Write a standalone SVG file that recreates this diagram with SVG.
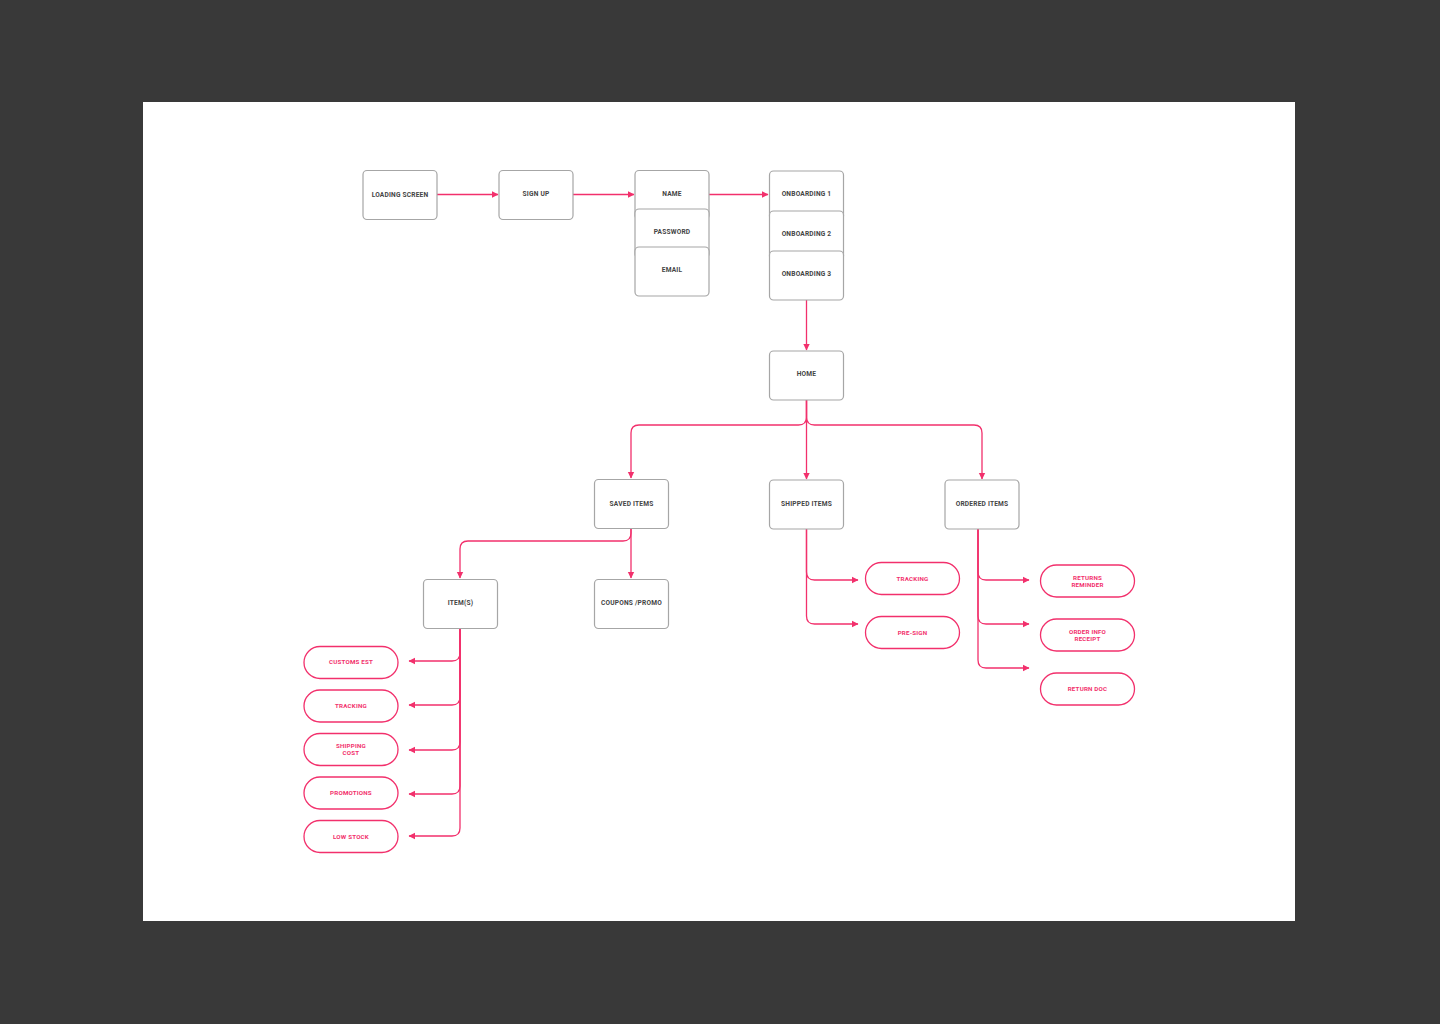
<svg xmlns="http://www.w3.org/2000/svg" width="1440" height="1024" viewBox="0 0 1440 1024">
<defs>
<style>
.box rect{fill:#fff;stroke:#a6a6a6;stroke-width:1.2}
.box text{font-family:Roboto,"Liberation Sans",sans-serif;font-size:6.6px;font-weight:700;fill:#444;text-anchor:middle;dominant-baseline:central;letter-spacing:0.2px}
.pill rect{fill:#fff;stroke:#f2306c;stroke-width:1.3}
.pill text{font-family:Roboto,"Liberation Sans",sans-serif;font-size:6.2px;font-weight:700;fill:#f2306c;text-anchor:middle;dominant-baseline:central;letter-spacing:0.2px}
.c path{fill:none;stroke:#f2306c;stroke-width:1.3;marker-end:url(#ah)}
</style>
<marker id="ah" markerUnits="userSpaceOnUse" markerWidth="8" markerHeight="8" viewBox="0 0 8 8" refX="6" refY="4" orient="auto">
<path d="M0,0.8 L6.5,4 L0,7.2 Z" fill="#f2306c"/>
</marker>
</defs>
<rect x="0" y="0" width="1440" height="1024" fill="#393939"/>
<rect x="143" y="102" width="1152" height="819" fill="#fff"/>

<g class="c" id="connectors">
<path d="M437,194.5 H498"/>
<path d="M573,194.5 H634"/>
<path d="M709,194.5 H768"/>
<path d="M806.5,300 V350"/>
<path d="M806.5,400 V417 Q806.5,425 798.5,425 H639 Q631,425 631,433 V478"/>
<path d="M806.5,400 V479"/>
<path d="M806.5,400 V417 Q806.5,425 814.5,425 H974 Q982,425 982,433 V479"/>
<path d="M631,528 V533 Q631,541 623,541 H468 Q460,541 460,549 V578"/>
<path d="M631,528 V578"/>
<path d="M460,628 V653 Q460,661 452,661 H409"/>
<path d="M460,628 V697 Q460,705 452,705 H409"/>
<path d="M460,628 V742 Q460,750 452,750 H409"/>
<path d="M460,628 V786 Q460,794 452,794 H409"/>
<path d="M460,628 V828 Q460,836 452,836 H409"/>
<path d="M806.5,529 V572 Q806.5,580 814.5,580 H858"/>
<path d="M806.5,529 V616 Q806.5,624 814.5,624 H858"/>
<path d="M978,529 V572 Q978,580 986,580 H1029"/>
<path d="M978,529 V616 Q978,624 986,624 H1029"/>
<path d="M978,529 V660 Q978,668 986,668 H1029"/>
</g>

<g class="box" id="loading"><rect x="363" y="170.5" width="74" height="49" rx="4"/><text x="400" y="194.5">LOADING SCREEN</text></g>
<g class="box" id="signup"><rect x="499" y="170.5" width="74" height="49" rx="4"/><text x="536" y="193.5">SIGN UP</text></g>
<g class="box" id="name"><rect x="635" y="170.5" width="74" height="49" rx="4"/><text x="672" y="193.5">NAME</text></g>
<g class="box" id="password"><rect x="635" y="209" width="74" height="49" rx="4"/><text x="672" y="232">PASSWORD</text></g>
<g class="box" id="email"><rect x="635" y="247" width="74" height="49" rx="4"/><text x="672" y="270">EMAIL</text></g>
<g class="box" id="onb1"><rect x="769.5" y="171" width="74" height="49" rx="4"/><text x="806.5" y="194">ONBOARDING 1</text></g>
<g class="box" id="onb2"><rect x="769.5" y="211" width="74" height="49" rx="4"/><text x="806.5" y="234">ONBOARDING 2</text></g>
<g class="box" id="onb3"><rect x="769.5" y="251" width="74" height="49" rx="4"/><text x="806.5" y="274">ONBOARDING 3</text></g>
<g class="box" id="home"><rect x="769.5" y="351" width="74" height="49" rx="4"/><text x="806.5" y="374">HOME</text></g>
<g class="box" id="saved"><rect x="594.5" y="479.5" width="74" height="49" rx="4"/><text x="631.5" y="503.5">SAVED ITEMS</text></g>
<g class="box" id="shipped"><rect x="769.5" y="480" width="74" height="49" rx="4"/><text x="806.5" y="504">SHIPPED ITEMS</text></g>
<g class="box" id="ordered"><rect x="945" y="480" width="74" height="49" rx="4"/><text x="982" y="504">ORDERED ITEMS</text></g>
<g class="box" id="items"><rect x="423.5" y="579.5" width="74" height="49" rx="4"/><text x="460.5" y="603">ITEM(S)</text></g>
<g class="box" id="coupons"><rect x="594.5" y="579.5" width="74" height="49" rx="4"/><text x="631.5" y="603">COUPONS /PROMO</text></g>

<g class="pill" id="customs"><rect x="304" y="646.5" width="94" height="32" rx="16"/><text x="351" y="662">CUSTOMS EST</text></g>
<g class="pill" id="tracking1"><rect x="304" y="690" width="94" height="32" rx="16"/><text x="351" y="705.5">TRACKING</text></g>
<g class="pill" id="shipcost"><rect x="304" y="733.5" width="94" height="32" rx="16"/><text x="351" y="746">SHIPPING</text><text x="351" y="753">COST</text></g>
<g class="pill" id="promotions"><rect x="304" y="777" width="94" height="32" rx="16"/><text x="351" y="792.5">PROMOTIONS</text></g>
<g class="pill" id="lowstock"><rect x="304" y="820.5" width="94" height="32" rx="16"/><text x="351" y="836.5">LOW STOCK</text></g>

<g class="pill" id="tracking2"><rect x="865.5" y="562.5" width="94" height="32" rx="16"/><text x="912.5" y="578.5">TRACKING</text></g>
<g class="pill" id="presign"><rect x="865.5" y="616.5" width="94" height="32" rx="16"/><text x="912.5" y="632.5">PRE-SIGN</text></g>

<g class="pill" id="returns"><rect x="1040.5" y="565" width="94" height="32" rx="16"/><text x="1087.5" y="577.5">RETURNS</text><text x="1087.5" y="584.5">REMINDER</text></g>
<g class="pill" id="orderinfo"><rect x="1040.5" y="619" width="94" height="32" rx="16"/><text x="1087.5" y="631.5">ORDER INFO</text><text x="1087.5" y="638.5">RECEIPT</text></g>
<g class="pill" id="returndoc"><rect x="1040.5" y="673" width="94" height="32" rx="16"/><text x="1087.5" y="689">RETURN DOC</text></g>
</svg>
